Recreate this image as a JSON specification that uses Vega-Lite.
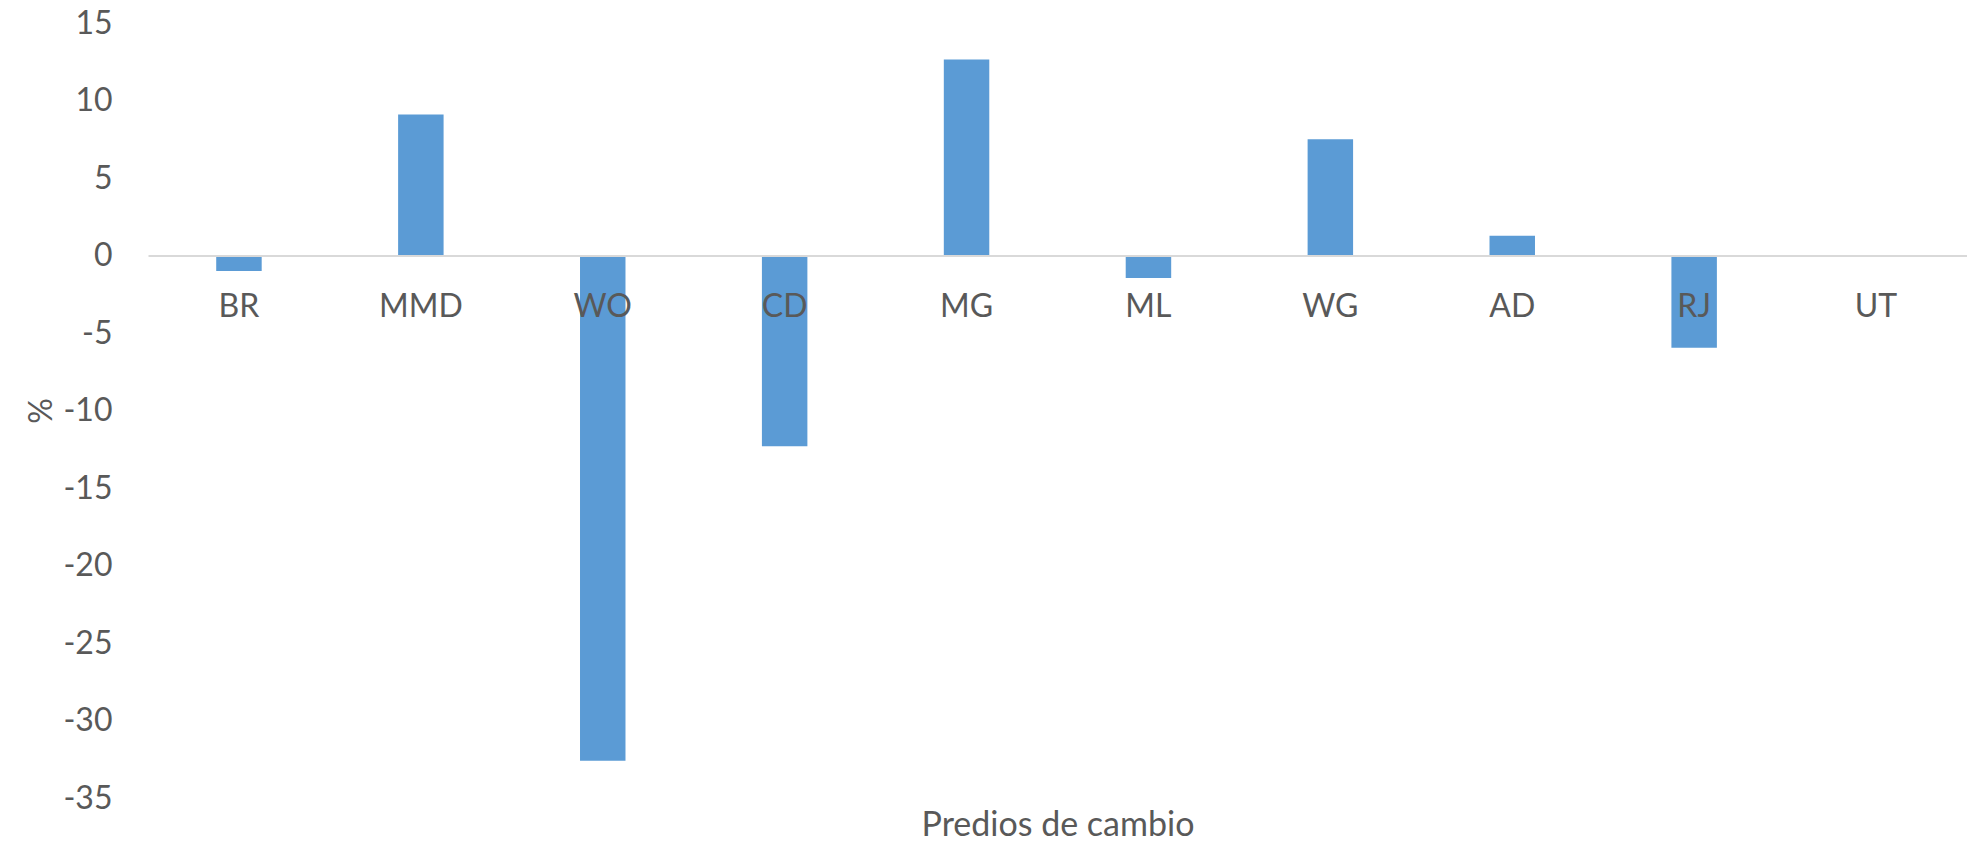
{
  "$schema": "https://vega.github.io/schema/vega-lite/v6.json",
  "autosize": "none",
  "width": 1819,
  "height": 775,
  "padding": {"left": 148, "top": 23, "right": 0, "bottom": 45},
  "background": "white",
  "config": {"view": {"stroke": null}, "font": "Lato"},
  "data": {
    "values": [
      {"predio": "BR", "pct": -1.0},
      {"predio": "MMD", "pct": 9.1},
      {"predio": "WO", "pct": -32.6},
      {"predio": "CD", "pct": -12.3},
      {"predio": "MG", "pct": 12.65},
      {"predio": "ML", "pct": -1.45},
      {"predio": "WG", "pct": 7.5},
      {"predio": "AD", "pct": 1.28},
      {"predio": "RJ", "pct": -5.95},
      {"predio": "UT", "pct": 0}
    ]
  },
  "mark": {"type": "bar", "color": "#5b9bd5"},
  "encoding": {
    "x": {
      "field": "predio",
      "type": "nominal",
      "sort": null,
      "scale": {"paddingInner": 0.75, "paddingOuter": 0.375},
      "axis": {
        "title": "Predios de cambio",
        "offset": -542.5,
        "zindex": 1,
        "labelAngle": 0,
        "labelFont": "Lato",
        "labelFontSize": 32,
        "labelColor": "#595959",
        "labelPadding": 36,
        "ticks": false,
        "domainColor": "#d9d9d9",
        "domainWidth": 2,
        "titleFont": "Lato",
        "titleFontSize": 34,
        "titleFontWeight": "normal",
        "titleColor": "#595959",
        "titleBaseline": "middle",
        "titleY": 570
      }
    },
    "y": {
      "field": "pct",
      "type": "quantitative",
      "scale": {"domain": [-35, 15], "nice": false, "zero": false},
      "axis": {
        "title": "%",
        "values": [-35, -30, -25, -20, -15, -10, -5, 0, 5, 10, 15],
        "labelExpr": "'' + datum.value",
        "grid": false,
        "domain": false,
        "ticks": false,
        "labelFont": "Lato",
        "labelFontSize": 32,
        "labelColor": "#595959",
        "labelPadding": 36,
        "titleFont": "Lato",
        "titleFontSize": 32,
        "titleFontWeight": "normal",
        "titleColor": "#595959",
        "titlePadding": 4
      }
    }
  }
}
